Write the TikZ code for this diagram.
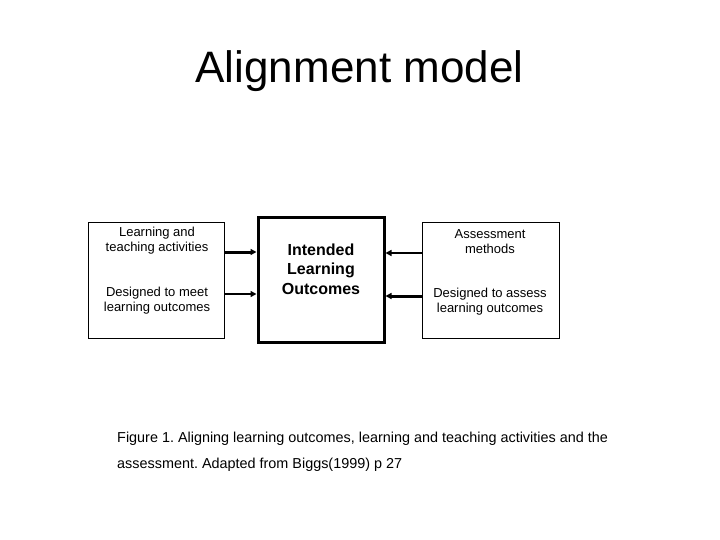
\documentclass[tikz,border=0pt]{standalone}
\usepackage{fontspec}
\setmainfont{Liberation Sans}
\usetikzlibrary{arrows.meta, positioning}
\frenchspacing
\tikzset{
  sidebox/.style = {rectangle, draw=black, line width=0.8pt, minimum width=136pt, minimum height=116pt, inner sep=0pt},
  midbox/.style = {rectangle, draw=black, line width=3pt, minimum width=126pt, minimum height=124pt, inner sep=0pt},
  boxtext/.style = {align=center, font=\fontsize{13}{15}\selectfont, inner sep=0pt},
  midtext/.style = {align=center, font=\fontsize{16}{19.5}\selectfont\bfseries, inner sep=0pt},
  captext/.style = {anchor=base west, font=\fontsize{14.4}{26}\selectfont, inner sep=0pt},
  line/.style = {-{Triangle[length=6pt,width=6pt]}, line width=2pt},
  heavyline/.style = {line, line width=3pt}
}
\begin{document}
\begin{tikzpicture}[x=1pt, y=-1pt]
\useasboundingbox (0,0) rectangle (720,540);
% title
\node[anchor=base, font=\fontsize{44}{50}\selectfont, inner sep=0pt] (title) at (359.5,83) {Alignment model};

% boxes
\node[sidebox] (tla) at (156,280) {};
\node[midbox] (ilo) at (321,280) {};
\node[sidebox, minimum width=137pt] (asm) at (490.5,280) {};

\node[boxtext] (tlatop) at (157,240.5) {Learning and\\teaching activities};
\node[boxtext] (tlabot) at (157,300.5) {Designed to meet\\learning outcomes};
\node[midtext] (ilotext) at (321,269) {Intended\\Learning\\Outcomes};
\node[boxtext] (asmtop) at (490,241.5) {Assessment\\methods};
\node[boxtext] (asmbot) at (490,301.5) {Designed to assess\\learning outcomes};

% arrows
\draw[heavyline] ([yshift=28pt]tla.east) -- ([yshift=28pt]ilo.west);
\draw[line] ([yshift=-14pt]tla.east) -- ([yshift=-14pt]ilo.west);
\draw[line] ([yshift=27pt]asm.west) -- ([yshift=27pt]ilo.east);
\draw[heavyline] ([yshift=-16pt]asm.west) -- ([yshift=-16pt]ilo.east);

% caption
\node[captext] (cap1) at (117,442) {Figure 1. Aligning learning outcomes, learning and teaching activities and the};
\node[captext] (cap2) at (117,468) {assessment. Adapted from Biggs(1999) p 27};
\end{tikzpicture}
\end{document}
